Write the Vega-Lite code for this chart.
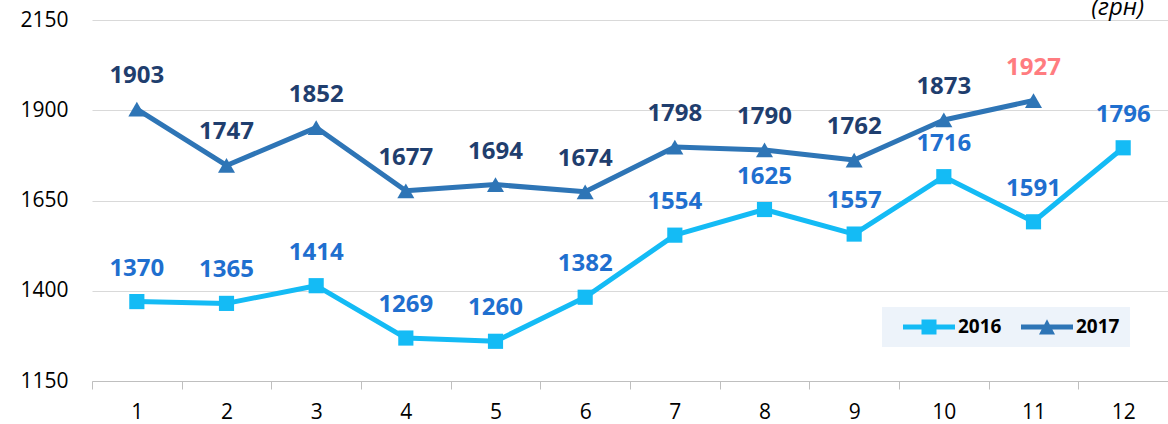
{
  "$schema": "https://vega.github.io/schema/vega-lite/v6.json",
  "autosize": {"type": "none"},
  "width": 1076,
  "height": 361,
  "padding": {"top": 20, "left": 92, "right": 0, "bottom": 43},
  "background": "#ffffff",
  "config": {"font": "Open Sans", "view": {"stroke": null}},
  "title": {
    "text": "(грн)",
    "anchor": "end",
    "frame": "group",
    "orient": "top",
    "fontSize": 24,
    "fontStyle": "italic",
    "fontWeight": "normal",
    "color": "#000000",
    "baseline": "alphabetic",
    "offset": 0,
    "dx": -24,
    "dy": 30
  },
  "data": {
    "values": [
      {"month": 1, "series": "2016", "value": 1370},
      {"month": 2, "series": "2016", "value": 1365},
      {"month": 3, "series": "2016", "value": 1414},
      {"month": 4, "series": "2016", "value": 1269},
      {"month": 5, "series": "2016", "value": 1260},
      {"month": 6, "series": "2016", "value": 1382},
      {"month": 7, "series": "2016", "value": 1554},
      {"month": 8, "series": "2016", "value": 1625},
      {"month": 9, "series": "2016", "value": 1557},
      {"month": 10, "series": "2016", "value": 1716},
      {"month": 11, "series": "2016", "value": 1591},
      {"month": 12, "series": "2016", "value": 1796},
      {"month": 1, "series": "2017", "value": 1903},
      {"month": 2, "series": "2017", "value": 1747},
      {"month": 3, "series": "2017", "value": 1852},
      {"month": 4, "series": "2017", "value": 1677},
      {"month": 5, "series": "2017", "value": 1694},
      {"month": 6, "series": "2017", "value": 1674},
      {"month": 7, "series": "2017", "value": 1798},
      {"month": 8, "series": "2017", "value": 1790},
      {"month": 9, "series": "2017", "value": 1762},
      {"month": 10, "series": "2017", "value": 1873},
      {"month": 11, "series": "2017", "value": 1927}
    ]
  },
  "encoding": {
    "x": {
      "field": "month",
      "type": "ordinal",
      "bandPosition": 0.5,
      "scale": {"type": "band", "paddingInner": 0, "paddingOuter": 0},
      "axis": {
        "title": null,
        "labelAngle": 0,
        "labelFontSize": 21,
        "labelColor": "#000000",
        "labelPadding": 12,
        "domainColor": "#BFBFBF",
        "tickColor": "#BFBFBF",
        "tickSize": 8,
        "tickBand": "extent",
        "grid": false
      }
    },
    "y": {
      "field": "value",
      "type": "quantitative",
      "scale": {"domain": [1150, 2150], "nice": false, "zero": false},
      "axis": {
        "title": null,
        "format": "d",
        "values": [1150, 1400, 1650, 1900, 2150],
        "labelFontSize": 21,
        "labelColor": "#000000",
        "labelPadding": 24,
        "domain": false,
        "ticks": false,
        "grid": true,
        "gridColor": "#D9D9D9",
        "gridWidth": 1
      }
    }
  },
  "layer": [
    {
      "mark": {"type": "line", "strokeWidth": 5, "strokeJoin": "round", "strokeCap": "round"},
      "encoding": {
        "color": {
          "field": "series",
          "type": "nominal",
          "scale": {"domain": ["2016", "2017"], "range": ["#14BBF5", "#2E75B6"]},
          "legend": {
            "title": null,
            "orient": "none",
            "legendX": 790,
            "legendY": 287,
            "direction": "horizontal",
            "fillColor": "#EDF3FA",
            "padding": 10,
            "labelFontSize": 19,
            "labelFontWeight": "bold",
            "labelColor": "#000000",
            "labelOffset": 46,
            "columnPadding": 8,
            "symbolSize": 400,
            "encode": {
              "symbols": {
                "update": {
                  "shape": {"signal": "datum.value === '2016' ? 'M0.1,-0.25L5.3,-0.25L5.3,0.25L0.1,0.25Z M1.95,-0.75L3.45,-0.75L3.45,0.75L1.95,0.75Z' : 'M0.1,-0.25L5.3,-0.25L5.3,0.25L0.1,0.25Z M2.7,-0.78L3.5,0.75L1.9,0.75Z'"},
                  "fill": {"signal": "datum.value === '2016' ? '#14BBF5' : '#2E75B6'"},
                  "fillOpacity": {"value": 1},
                  "strokeWidth": {"value": 0}
                }
              }
            }
          }
        }
      }
    },
    {
      "mark": {"type": "point", "filled": true, "opacity": 1},
      "encoding": {
        "color": {"field": "series", "type": "nominal"},
        "shape": {"condition": {"test": "datum.series === '2016'", "value": "square"}, "value": "triangle-up"},
        "size": {"condition": {"test": "datum.series === '2016'", "value": 230}, "value": 290}
      }
    },
    {
      "mark": {"type": "text", "dy": -33, "fontSize": 24, "fontWeight": "bold", "baseline": "middle"},
      "encoding": {
        "text": {"field": "value", "type": "quantitative"},
        "color": {
          "condition": [
            {"test": "datum.series === '2017' && datum.month === 11", "value": "#FF7C80"},
            {"test": "datum.series === '2016'", "value": "#1F6FCF"}
          ],
          "value": "#1F3E6E"
        }
      }
    }
  ]
}
